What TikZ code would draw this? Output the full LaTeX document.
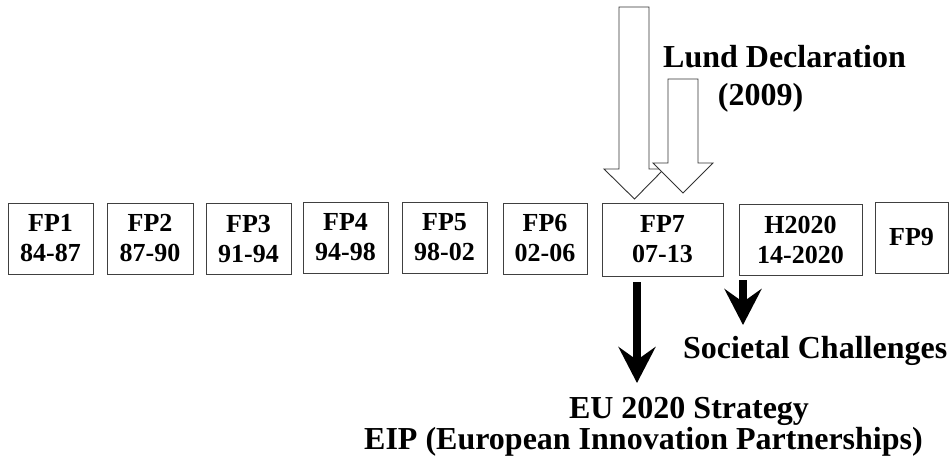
\documentclass[tikz,border=0pt]{standalone}
\usepackage{fontspec}
\setmainfont{Liberation Serif}
\usetikzlibrary{arrows.meta}

\tikzset{
  fpbox/.style={draw=black!75, line width=0.9pt, minimum height=71pt, inner sep=0pt, align=center, font=\fontsize{26}{30}\selectfont\bfseries},
  lbl/.style={inner sep=0pt, font=\fontsize{32}{38}\selectfont\bfseries},
  hollow/.style={draw=black!80, line width=0.9pt, fill=white},
  bigdown/.style={line width=8pt, -{Stealth[length=36pt, width=37pt, inset=13pt]}},
}

\begin{document}
\begin{tikzpicture}[x=1pt, y=-1pt]
  \useasboundingbox (0,0) rectangle (951,467);

  % Framework programmes
  \node[fpbox, minimum width=85pt] (fp1) at (50.5,238.5) {FP1\\84-87};
  \node[fpbox, minimum width=86pt] (fp2) at (150,238.5) {FP2\\87-90};
  \node[fpbox, minimum width=85pt] (fp3) at (248.5,239) {FP3\\91-94};
  \node[fpbox, minimum width=85pt] (fp4) at (345.5,237.5) {FP4\\94-98};
  \node[fpbox, minimum width=85pt] (fp5) at (444.5,237.5) {FP5\\98-02};
  \node[fpbox, minimum width=84pt] (fp6) at (545,238.5) {FP6\\02-06};
  \node[fpbox, minimum width=121pt, minimum height=73pt] (fp7) at (662.5,239.5) {FP7\\07-13};
  \node[fpbox, minimum width=123pt] (h2020) at (800.5,239.5) {H2020\\14-2020};
  \node[fpbox, minimum width=73pt] (fp9) at (911.5,237.5) {FP9};

  % Hollow arrows
  \draw[hollow] (619,7) -- (649,7) -- (649,169) -- (664,169) -- (634.5,199) -- (604,169) -- (619,169) -- cycle;
  \draw[hollow] (668,79) -- (698,79) -- (698,163) -- (713,163) -- (683,193) -- (653,163) -- (668,163) -- cycle;

  % Labels
  \node[lbl, anchor=base west] (lund) at (663,67) {Lund Declaration};
  \node[lbl, anchor=base] (lundyr) at (760.5,105) {(2009)};
  \node[lbl, anchor=base west] (soc) at (683,358) {Societal Challenges};
  \node[lbl, anchor=base] (eu) at (689,418) {EU 2020 Strategy};
  \node[lbl, anchor=base] (eip) at (643.5,449) {EIP (European Innovation Partnerships)};

  % Black arrows
  \coordinate (eutip) at (637,383);
  \coordinate (soctip) at (743,325);
  \draw[bigdown, shorten <=6pt] (fp7.south -| eutip) -- (eutip);
  \draw[bigdown, shorten <=5pt] (h2020.south -| soctip) -- (soctip);
\end{tikzpicture}
\end{document}
